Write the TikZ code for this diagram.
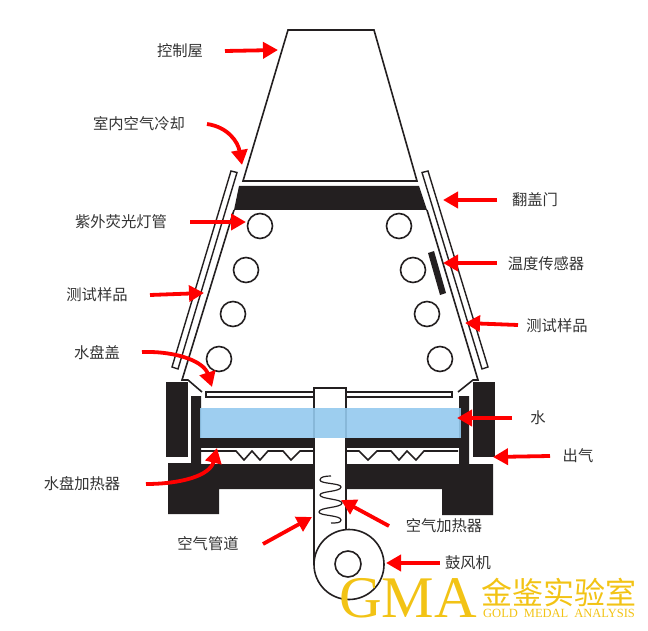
\documentclass[tikz,border=0pt]{standalone}
\usepackage{fontspec}
\setmainfont{Liberation Serif}
\newfontfamily\cjk{Noto Sans CJK SC}
\usetikzlibrary{arrows.meta}
\definecolor{ink}{HTML}{231F20}
\definecolor{lab}{HTML}{333333}
\definecolor{wat}{HTML}{93C9EE}
\definecolor{gold}{HTML}{F2C315}
\tikzset{
  wall/.style={draw=ink,line width=1.6pt,line join=miter},
  solid block/.style={fill=ink,draw=none},
  redarrow/.style={draw=red,line width=3.8pt,-{Triangle[length=15pt,width=16pt]}},
  lbl/.style={text=lab,font=\cjk\fontsize{15.3}{15.3}\selectfont,inner sep=0pt},
  logo/.style={text=gold,inner sep=0pt,anchor=base west},
}
\begin{document}
\begin{tikzpicture}[x=1pt,y=-1pt]
\useasboundingbox (0,0) rectangle (648,631);
% control room
\draw[wall] (288,30) -- (374,30) -- (417,181) -- (243,181) -- cycle;
\fill[solid block] (239,186) -- (419,186) -- (427,210) -- (234,210) -- cycle;
% chamber walls
\draw[wall] (234,210) -- (182,380) -- (188,380) -- (202,392);
\draw[wall] (427,210) -- (478,380) -- (473,380) -- (458,392);
% doors
\draw[wall,line width=1.4pt] (231,171) -- (237,172.5) -- (178,369) -- (172,367) -- cycle;
\draw[wall,line width=1.4pt] (422,172.5) -- (428,171) -- (488,367) -- (482,369) -- cycle;
% lamps
\foreach \nm/\cx/\cy in {a/260/226,b/399/226,c/246/270,d/413/270,e/233/314,f/427/314,g/219/359,h/440/359}
  \draw[wall] (\cx,\cy) circle[radius=12.5] coordinate (lamp\nm);
% sensor
\fill[solid block] (428,253) -- (434,251) -- (446,293) -- (440,295) -- cycle;
% outer blocks
\fill[solid block] (166,382) rectangle (188,457);
\fill[solid block] (473,382) rectangle (495,457);
% pan and base
\fill[solid block] (168,463) -- (191,463) -- (191,396) -- (201,396) -- (201,464) -- (459,464)
  -- (459,396) -- (469,396) -- (469,464) -- (493,464) -- (493,515) -- (442,515) -- (442,489)
  -- (219,489) -- (219,514) -- (168,514) -- cycle;
\fill[solid block] (201,438) rectangle (459,448);
% heater
\draw[ink,line width=1.6pt] (201,451) -- (236,451) -- (244,460) -- (252,451) -- (260,460) -- (268,451)
  -- (283,451) -- (291,460) -- (300,451) -- (314,451);
\draw[ink,line width=1.6pt] (346,451) -- (359,451) -- (368,460) -- (377,451) -- (391,451) -- (399,460)
  -- (407,451) -- (416,460) -- (424,451) -- (458,451);
% lid
\draw[wall,fill=white] (206,392) rectangle (452,397);
% duct
\fill[white] (314,388) rectangle (346,532);
\draw[wall] (314,564) -- (314,388) -- (346,388) -- (346,530);
% water
\fill[wat,opacity=0.9] (200,408) rectangle (461,438);
% coil
\draw[ink,line width=1.2pt] (331,476) .. controls (325,476) and (320,477) .. (320,480)
  .. controls (320,484) and (341,483) .. (341,487)
  .. controls (341,492) and (320,491) .. (320,495)
  .. controls (320,499) and (342,499) .. (342,503)
  .. controls (342,508) and (319,507) .. (319,512)
  .. controls (319,516) and (341,515) .. (341,520)
  .. controls (341,523) and (336,523) .. (331,523);
% blower
\draw[wall,fill=none] (349,564.5) circle[radius=35];
\draw[wall] (348,564) circle[radius=13];
% labels
\node[lbl] (l1) at (180,51) {控制屋};
\node[lbl] (l2) at (139,124) {室内空气冷却};
\node[lbl] (l3) at (121,222) {紫外荧光灯管};
\node[lbl] (l4) at (97,295) {测试样品};
\node[lbl] (l5) at (97,353) {水盘盖};
\node[lbl] (l6) at (82,484) {水盘加热器};
\node[lbl] (l7) at (208,544) {空气管道};
\node[lbl] (r1) at (535,200) {翻盖门};
\node[lbl] (r2) at (546,264) {温度传感器};
\node[lbl] (r3) at (557,326) {测试样品};
\node[lbl] (r4) at (538,418) {水};
\node[lbl] (r5) at (578,456) {出气};
\node[lbl] (r6) at (444,526) {空气加热器};
\node[lbl] (r7) at (468,563) {鼓风机};
% arrow ends
\coordinate (a1s) at (225,51);  \coordinate (a1t) at (278,50);
\coordinate (a2s) at (207,124); \coordinate (a2t) at (242,165);
\coordinate (a3s) at (190,222); \coordinate (a3t) at (246,222);
\coordinate (a4s) at (150,295); \coordinate (a4t) at (204,293);
\coordinate (a5s) at (142,352); \coordinate (a5t) at (212,387);
\coordinate (a6s) at (146,484); \coordinate (a6t) at (217,448);
\coordinate (a7s) at (263,544); \coordinate (a7t) at (312,517);
\coordinate (b1s) at (497,200); \coordinate (b1t) at (443,200);
\coordinate (b2s) at (497,263); \coordinate (b2t) at (443,263);
\coordinate (b3s) at (518,325); \coordinate (b3t) at (465,323);
\coordinate (b4s) at (512,418); \coordinate (b4t) at (457,418);
\coordinate (b5s) at (550,456); \coordinate (b5t) at (493,457);
\coordinate (b6s) at (389,526); \coordinate (b6t) at (341,500);
\coordinate (b7s) at (440,563); \coordinate (b7t) at (386,563);
\draw[redarrow] (a1s) -- (a1t);
\draw[redarrow] (a2s) .. controls (228,127) and (238,142) .. (a2t);
\draw[redarrow] (a3s) -- (a3t);
\draw[redarrow] (a4s) -- (a4t);
\draw[redarrow] (a5s) .. controls (178,351) and (204,362) .. (a5t);
\draw[redarrow] (a6s) .. controls (180,484) and (210,476) .. (a6t);
\draw[redarrow] (a7s) -- (a7t);
\draw[redarrow] (b1s) -- (b1t);
\draw[redarrow] (b2s) -- (b2t);
\draw[redarrow] (b3s) -- (b3t);
\draw[redarrow] (b4s) -- (b4t);
\draw[redarrow] (b5s) -- (b5t);
\draw[redarrow] (b6s) -- (b6t);
\draw[redarrow] (b7s) -- (b7t);
% logo
\node[logo,font=\fontsize{59}{59}\selectfont] (gma) at (339,617) {GMA};
\node[logo,font=\cjk\fontsize{31}{31}\selectfont] (gmc) at (481,604) {金鉴实验室};
\node[logo,font=\fontsize{12.5}{12.5}\selectfont] (gme) at (483,617) {GOLD\hspace{6pt}MEDAL\hspace{6pt}ANALYSIS};
\end{tikzpicture}
\end{document}
